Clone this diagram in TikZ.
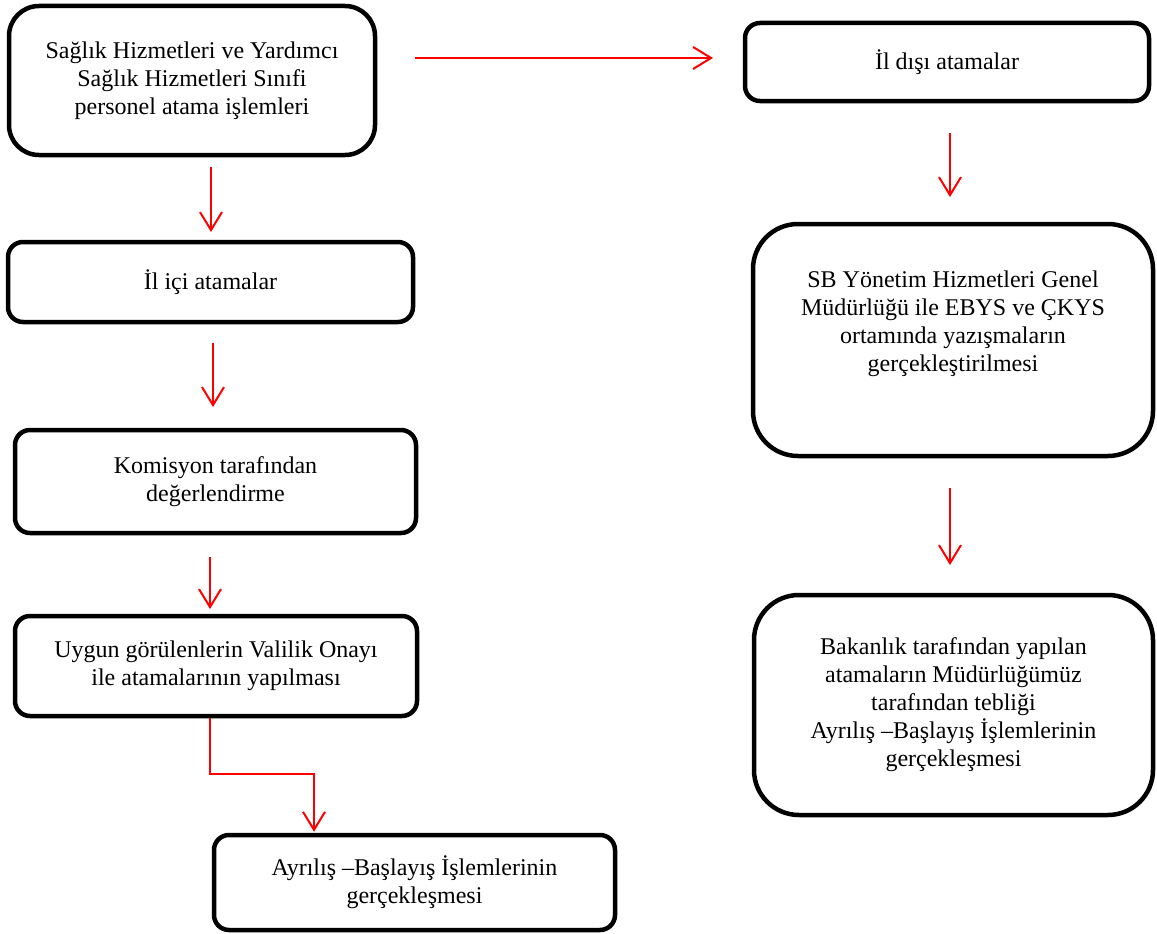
\documentclass[tikz,border=0pt]{standalone}
\usepackage{fontspec}
\setmainfont{Liberation Serif}
\usetikzlibrary{arrows.meta}
\definecolor{flowred}{RGB}{255,0,0}
\begin{document}
\begin{tikzpicture}[x=1pt,y=-1pt,
  stepbox/.style={draw=black, line width=4.5pt, rounded corners=15pt,
    inner sep=0pt, align=center, font=\fontsize{24}{28}\selectfont},
  bigbox/.style={stepbox, rounded corners=45pt},
  flow/.style={draw=flowred, line width=2pt,
    -{Straight Barb[length=18pt,width=22pt,line width=2pt]}},
  plainlbl/.style={align=center, inner sep=0pt, font=\fontsize{24}{28}\selectfont}]
\useasboundingbox (0,0) rectangle (1157,934);

% left column
\node[stepbox, rounded corners=30pt, minimum width=366pt, minimum height=149pt] (b1) at (192,80.5)
  {Sağlık Hizmetleri ve Yardımcı\\Sağlık Hizmetleri Sınıfi\\personel atama işlemleri};
\node[stepbox, minimum width=405pt, minimum height=80pt] (b2) at (210.5,282) {İl içi atamalar};
\node[stepbox, minimum width=401pt, minimum height=103pt] (b3) at (215.5,481.5)
  {Komisyon tarafından\\değerlendirme};
\node[stepbox, minimum width=402pt, minimum height=100pt] (b4) at (216,666)
  {Uygun görülenlerin Valilik Onayı\\ile atamalarının yapılması};
\node[stepbox, minimum width=401pt, minimum height=95pt] (b5) at (414.5,882.5)
  {Ayrılış –Başlayış İşlemlerinin\\gerçekleşmesi};

% right column
\node[stepbox, minimum width=404pt, minimum height=78pt] (b6) at (947,62) {İl dışı atamalar};
\node[bigbox, minimum width=400pt, minimum height=232pt] (b7) at (953,340) {};
\node[plainlbl] (t7) at (953,324)
  {SB Yönetim Hizmetleri Genel\\Müdürlüğü ile EBYS ve ÇKYS\\ortamında yazışmaların\\gerçekleştirilmesi};
\node[bigbox, minimum width=399pt, minimum height=220pt] (b8) at (953.5,705)
  {Bakanlık tarafından yapılan\\atamaların Müdürlüğümüz\\tarafından tebliği\\Ayrılış –Başlayış İşlemlerinin\\gerçekleşmesi};

% arrow end points between the boxes
\coordinate (h1) at (415,58);   \coordinate (h2) at (713,58);
\coordinate (p1) at (211,167);  \coordinate (q1) at (211,232);
\coordinate (p2) at (213,343);  \coordinate (q2) at (213,407);
\coordinate (p3) at (210,557);  \coordinate (q3) at (210,609);
\coordinate (e1) at (210,774);  \coordinate (e2) at (314,774);
\coordinate (p4) at (950,133);  \coordinate (q4) at (950,197);
\coordinate (p5) at (950,488);  \coordinate (q5) at (950,565);

\draw[flow] (h1) -- (h2);
\draw[flow] (p1) -- (q1);
\draw[flow] (p2) -- (q2);
\draw[flow] (p3) -- (q3);
\draw[flow] (b4.south -| e1) -- (e1) -- (e2) -- ([yshift=1pt]b5.north -| e2);
\draw[flow] (p4) -- (q4);
\draw[flow] (p5) -- (q5);
\end{tikzpicture}
\end{document}
